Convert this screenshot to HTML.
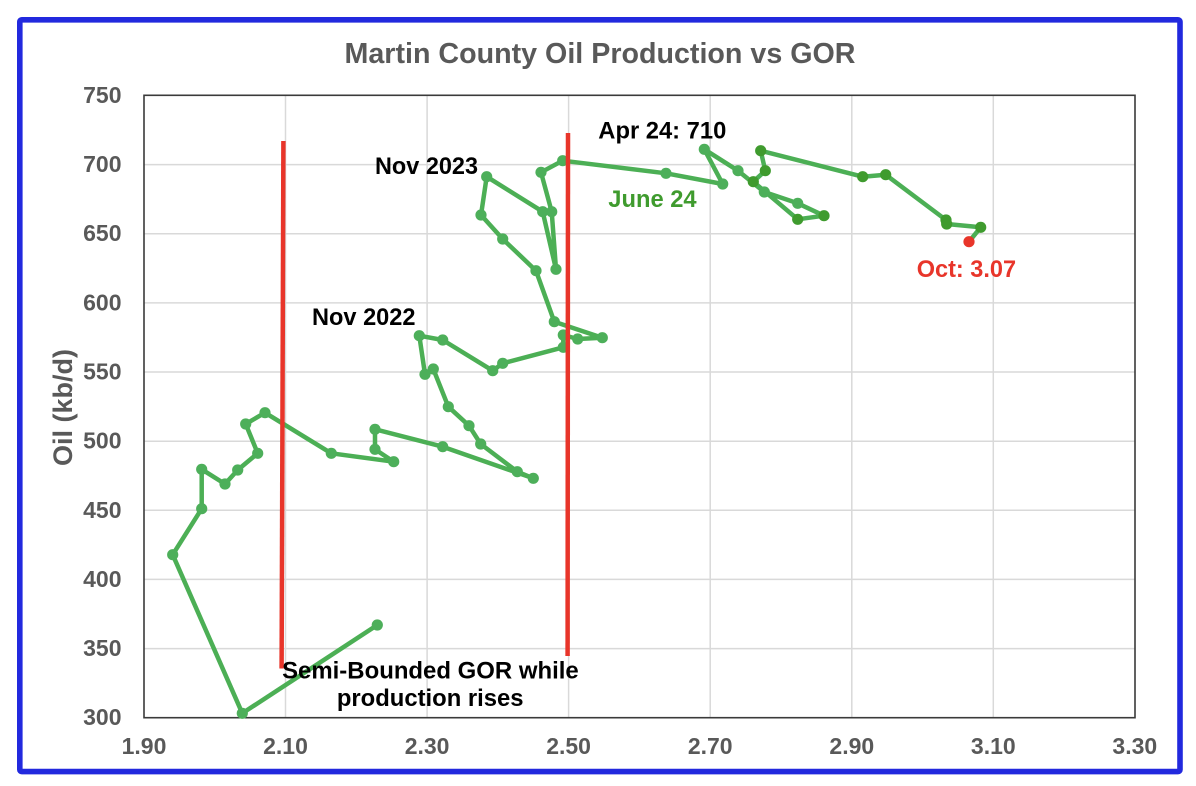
<!DOCTYPE html>
<html>
<head>
<meta charset="utf-8">
<style>
  html, body { margin:0; padding:0; background:#ffffff; }
  svg { display:block; }
  text { font-family: "Liberation Sans", Arial, sans-serif; font-weight:bold; }
</style>
</head>
<body>
<svg width="1196" height="786" viewBox="0 0 1196 786" xmlns="http://www.w3.org/2000/svg">
  <rect x="0" y="0" width="1196" height="786" fill="#ffffff"/>
  <rect x="19.8" y="19.8" width="1160.2" height="751.8" rx="2" ry="2" fill="none" stroke="#2229DE" stroke-width="5.6"/>

  <text x="600" y="63" text-anchor="middle" font-size="28.6" fill="#595959" textLength="511" lengthAdjust="spacingAndGlyphs">Martin County Oil Production vs GOR</text>

  <g stroke="#d9d9d9" stroke-width="1.5">
    <line x1="144" y1="164.6" x2="1135" y2="164.6"/>
    <line x1="144" y1="233.7" x2="1135" y2="233.7"/>
    <line x1="144" y1="302.9" x2="1135" y2="302.9"/>
    <line x1="144" y1="372.0" x2="1135" y2="372.0"/>
    <line x1="144" y1="441.2" x2="1135" y2="441.2"/>
    <line x1="144" y1="510.3" x2="1135" y2="510.3"/>
    <line x1="144" y1="579.4" x2="1135" y2="579.4"/>
    <line x1="144" y1="648.6" x2="1135" y2="648.6"/>
    <line x1="285.5" y1="95.3" x2="285.5" y2="717.7"/>
    <line x1="427.1" y1="95.3" x2="427.1" y2="717.7"/>
    <line x1="568.6" y1="95.3" x2="568.6" y2="717.7"/>
    <line x1="710.2" y1="95.3" x2="710.2" y2="717.7"/>
    <line x1="851.8" y1="95.3" x2="851.8" y2="717.7"/>
    <line x1="993.3" y1="95.3" x2="993.3" y2="717.7"/>
  </g>
  <rect x="144" y="95.3" width="991" height="622.4" fill="none" stroke="#3a3a3a" stroke-width="1.6"/>

  <g font-size="23" fill="#595959" text-anchor="end">
    <text x="121.5" y="103">750</text>
    <text x="121.5" y="172.1">700</text>
    <text x="121.5" y="241.2">650</text>
    <text x="121.5" y="310.4">600</text>
    <text x="121.5" y="379.5">550</text>
    <text x="121.5" y="448.7">500</text>
    <text x="121.5" y="517.8">450</text>
    <text x="121.5" y="586.9">400</text>
    <text x="121.5" y="656.1">350</text>
    <text x="121.5" y="725.2">300</text>
  </g>
  <g font-size="23" fill="#595959" text-anchor="middle">
    <text x="144" y="754">1.90</text>
    <text x="285.5" y="754">2.10</text>
    <text x="427.1" y="754">2.30</text>
    <text x="568.6" y="754">2.50</text>
    <text x="710.2" y="754">2.70</text>
    <text x="851.8" y="754">2.90</text>
    <text x="993.3" y="754">3.10</text>
    <text x="1134.8" y="754">3.30</text>
  </g>
  <text transform="translate(72,407.5) rotate(-90)" text-anchor="middle" font-size="27" fill="#595959">Oil (kb/d)</text>

  <polyline fill="none" stroke="#4CAF55" stroke-width="4.5" stroke-linejoin="round" stroke-linecap="round"
    points="377.3,625 242.3,713.3 172.7,554.7 201.7,508.7 201.7,469.3 225,484 237.7,470 257.7,453.3 245.7,424 265,412.7 331.3,453.3 393.7,461.7 375,449.3 375,429.3 442.7,446.7 533.3,478.3 517.3,471.7 480.7,444 469,425.7 448.3,406.7 433.3,369 425,374.3 419.3,335.7 442.7,340 492.7,370.7 502.7,363.3 563.3,347.3 563.3,335 577.7,339 602.3,337.7 554.3,321.7 536,270.7 502.7,239 481,215 486.7,176.7 542.7,211.7 556,269.3 551.7,211.7 541,172.3 562.7,160.7 666,173.3 722.7,184 704.3,149.3 738,170.7 764.3,192 797.7,203.3 824,215.7 797.7,219.3 753.3,181.7 765.3,170.7 760.7,150.7 862.7,176.7 885.7,174.7 946,220 946.7,224 980.7,227.3 969,241.7"/>

  <g fill="#4DAF5A">
    <circle cx="377.3" cy="625" r="5.6"/>
    <circle cx="242.3" cy="713.3" r="5.6"/>
    <circle cx="172.7" cy="554.7" r="5.6"/>
    <circle cx="201.7" cy="508.7" r="5.6"/>
    <circle cx="201.7" cy="469.3" r="5.6"/>
    <circle cx="225" cy="484" r="5.6"/>
    <circle cx="237.7" cy="470" r="5.6"/>
    <circle cx="257.7" cy="453.3" r="5.6"/>
    <circle cx="245.7" cy="424" r="5.6"/>
    <circle cx="265" cy="412.7" r="5.6"/>
    <circle cx="331.3" cy="453.3" r="5.6"/>
    <circle cx="393.7" cy="461.7" r="5.6"/>
    <circle cx="375" cy="449.3" r="5.6"/>
    <circle cx="375" cy="429.3" r="5.6"/>
    <circle cx="442.7" cy="446.7" r="5.6"/>
    <circle cx="533.3" cy="478.3" r="5.6"/>
    <circle cx="517.3" cy="471.7" r="5.6"/>
    <circle cx="480.7" cy="444" r="5.6"/>
    <circle cx="469" cy="425.7" r="5.6"/>
    <circle cx="448.3" cy="406.7" r="5.6"/>
    <circle cx="433.3" cy="369" r="5.6"/>
    <circle cx="425" cy="374.3" r="5.6"/>
    <circle cx="419.3" cy="335.7" r="5.6"/>
    <circle cx="442.7" cy="340" r="5.6"/>
    <circle cx="492.7" cy="370.7" r="5.6"/>
    <circle cx="502.7" cy="363.3" r="5.6"/>
    <circle cx="563.3" cy="347.3" r="5.6"/>
    <circle cx="563.3" cy="335" r="5.6"/>
    <circle cx="577.7" cy="339" r="5.6"/>
    <circle cx="602.3" cy="337.7" r="5.6"/>
    <circle cx="554.3" cy="321.7" r="5.6"/>
    <circle cx="536" cy="270.7" r="5.6"/>
    <circle cx="502.7" cy="239" r="5.6"/>
    <circle cx="481" cy="215" r="5.6"/>
    <circle cx="486.7" cy="176.7" r="5.6"/>
    <circle cx="542.7" cy="211.7" r="5.6"/>
    <circle cx="556" cy="269.3" r="5.6"/>
    <circle cx="551.7" cy="211.7" r="5.6"/>
    <circle cx="541" cy="172.3" r="5.6"/>
    <circle cx="562.7" cy="160.7" r="5.6"/>
    <circle cx="666" cy="173.3" r="5.6"/>
    <circle cx="722.7" cy="184" r="5.6"/>
    <circle cx="704.3" cy="149.3" r="5.6"/>
    <circle cx="738" cy="170.7" r="5.6"/>
    <circle cx="764.3" cy="192" r="5.6"/>
    <circle cx="797.7" cy="203.3" r="5.6"/>
  </g>
  <g fill="#3F9B2E">
    <circle cx="753.3" cy="181.7" r="5.6"/>
    <circle cx="765.3" cy="170.7" r="5.6"/>
    <circle cx="760.7" cy="150.7" r="5.6"/>
    <circle cx="824" cy="215.7" r="5.6"/>
    <circle cx="797.7" cy="219.3" r="5.6"/>
    <circle cx="862.7" cy="176.7" r="5.6"/>
    <circle cx="885.7" cy="174.7" r="5.6"/>
    <circle cx="946" cy="220" r="5.6"/>
    <circle cx="946.7" cy="224" r="5.6"/>
    <circle cx="980.7" cy="227.3" r="5.6"/>
  </g>
  <circle cx="969" cy="241.7" r="5.6" fill="#E8352A"/>

  <line x1="283.4" y1="141" x2="281.6" y2="668.5" stroke="#E8352A" stroke-width="4.5"/>
  <line x1="568" y1="133" x2="567.6" y2="656" stroke="#E8352A" stroke-width="4.5"/>

  <g font-size="23.6">
    <text x="375" y="174" fill="#000000" textLength="103" lengthAdjust="spacingAndGlyphs">Nov 2023</text>
    <text x="312" y="325" fill="#000000" textLength="103.5" lengthAdjust="spacingAndGlyphs">Nov 2022</text>
    <text x="598.3" y="138.5" fill="#000000" textLength="128" lengthAdjust="spacingAndGlyphs">Apr 24: 710</text>
    <text x="608.3" y="207" fill="#3F9B2E" textLength="88.3" lengthAdjust="spacingAndGlyphs">June 24</text>
    <text x="916.7" y="277" fill="#E8352A" textLength="99.4" lengthAdjust="spacingAndGlyphs">Oct: 3.07</text>
    <text x="430.4" y="678.5" fill="#000000" text-anchor="middle" textLength="296.6" lengthAdjust="spacingAndGlyphs">Semi-Bounded GOR while</text>
    <text x="430.2" y="706" fill="#000000" text-anchor="middle" textLength="186.7" lengthAdjust="spacingAndGlyphs">production rises</text>
  </g>
</svg>
</body>
</html>
